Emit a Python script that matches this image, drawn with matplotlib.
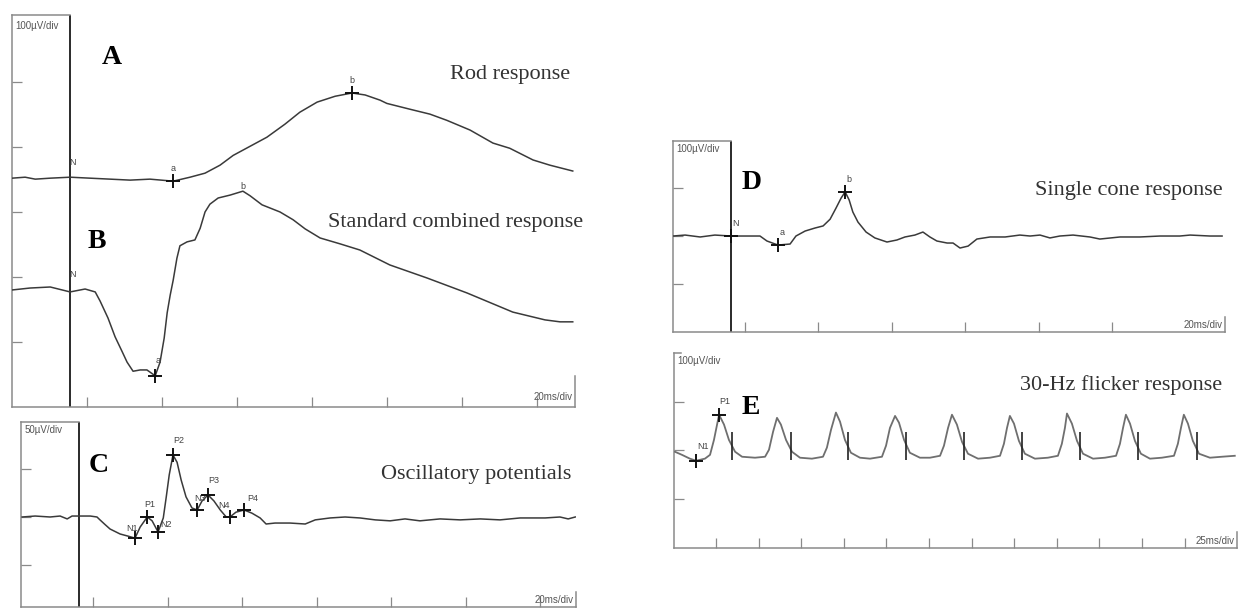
import matplotlib
matplotlib.use('Agg')
import matplotlib.pyplot as plt

W, H = 1241, 610

# ---------------- data (time in ms, amplitude in microvolts) ----------------
# A: rod response
rod_t = [-15.5, -12.0, -9.3, -5.3, 0, 5.3, 10.7, 16, 21.3, 27.5, 32, 36, 40, 43.5, 48, 52.5,
         57.3, 61.3, 65.9, 70.7, 75.2, 78.7, 82.7, 84.5, 90.7, 96, 100.5, 106.7, 112.8, 117.3,
         123.5, 128, 134.1]
rod_v = [0, 1.5, -1.5, 0, 1.5, 0, -1.5, -3, -1.5, -4.6, 1.5, 7.7, 20, 35, 49, 63,
         83, 101.5, 117, 126, 131, 128, 120, 115, 106, 98.5, 89, 74, 54, 46,
         28, 20, 11]
rod_marks_t = [27.5, 75.2]
rod_marks_v = [-4.6, 131]
rod_marks_lbl = ['a', 'b']

# B: standard combined response
comb_t = [-15.5, -10.7, -5.3, 0, 4, 6.7, 8, 10.1, 12, 13.9, 15.2, 16.8, 18.7, 20.5, 22.7, 24,
          25.1, 25.9, 26.7, 27.5, 28.5, 29.3, 31.2, 33.3, 34.7, 36, 37.3, 39.5, 42.7, 46.1, 48,
          51.2, 56, 59.5, 62.7, 66.7, 72, 77.3, 85.3, 95.2, 105.9, 118.1, 126.7, 130.7, 134.1]
comb_v = [0, 3, 4.6, -3, 1.5, -3, -17, -43, -72, -95, -111, -125, -123, -123, -132, -111,
          -74, -35, -8, 15, 49, 68, 74, 77, 95, 120, 132, 141.5, 146, 152, 145,
          131, 120, 108, 94, 80, 71, 61.5, 38.5, 18.5, -4.6, -34, -46, -49, -49]
comb_marks_t = [22.7]
comb_marks_v = [-132]

# C: oscillatory potentials
op_t = [-15.3, -11.8, -7.8, -5.1, -3.2, -1.9, 0, 3, 4.8, 5.6, 7, 8.3, 11, 13.2, 15, 16.4,
        18.3, 19.6, 21.2, 22.6, 23.4, 24.2, 25.2, 26.3, 27.4, 28.7, 30.3, 31.7, 33, 34.6,
        36.2, 37.9, 39.5, 40.5, 42.1, 44.3, 46.4, 48.6, 50.2, 52.6, 56.6, 60.7, 63.4, 67.4,
        71.4, 75.4, 79.5, 83.5, 87.5, 91.5, 96.9, 102.3, 107.7, 113, 118.4, 125.1, 129.1,
        131.3, 133.2]
op_v = [0, 1, 0, 1, -2, 1, 1, 1, 0, -3, -8, -12.5, -17.7, -20, -22, -10.4,
        0, -4, -15.6, -1, 21, 44, 64.6, 57, 38.5, 21, 9.4, 7.3, 16.7, 23,
        16.7, 7.3, 0, 0, 5, 7.3, 4, -1, -7.3, -6.3, -6.3, -7.3, -3, -1,
        0, -1, -3, -4, -2, -4, -2, -3, -2, -3, -1, -1, 0,
        -2, 0]
op_marks_lbl = ['N1', 'P1', 'N2', 'P2', 'N3', 'P3', 'N4', 'P4']
op_marks_t = [15, 18.3, 21.2, 25.2, 31.7, 34.6, 40.5, 44.3]
op_marks_v = [-22, 0, -15.6, 64.6, 7.3, 23, 0, 7.3]

# D: single cone response
cone_t = [-15.8, -12.5, -8.4, -4.4, 0, 5.2, 7.9, 9.8, 12.8, 16.1, 17.7, 20.2, 22.9, 25.1, 27,
          28.6, 30, 31.1, 32.2, 33.2, 34.6, 36.8, 39.2, 42.5, 45.2, 47.4, 50.1, 52.3, 54.2,
          56.1, 58.9, 60.5, 62.4, 64.6, 67, 70.6, 74.7, 78.7, 81.5, 84.2, 86.9, 89.6, 93.2,
          97.8, 100.5, 106, 111.4, 116.9, 122.3, 125.1, 130.5, 133.8]
cone_v = [0, 2, -2, 2, 0, 0, 0, -10.4, -18.8, -16.7, 0, 10.4, 16.7, 21, 35,
          58, 79, 92, 75, 50, 29, 8.3, -4, -12.5, -8.3, -2, 2, 8.3, -2,
          -10.4, -14.6, -14.6, -25, -21, -6.3, -2, -2, 2, 0, 2, -4, 0, 2,
          -2, -6.3, -2, -2, 0, 0, 2, 0, 0]
cone_marks_t = [0, 12.8, 31.1]
cone_marks_v = [0, -18.8, 92]
cone_marks_lbl = ['N', 'a', 'b']

# E: 30-Hz flicker response
flk_t = [0.9, 5, 9.7, 13.3, 18.5, 21.5, 23.8, 26.8, 29.7, 32.6, 36.2, 40.3, 47.9, 53.8,
         56.1, 58.5, 60.8, 63.1, 66.1, 69.6, 74.3, 81.3, 87.8, 90.1, 92.5, 95.4, 97.8,
         100.7, 104.2, 109.5, 115.4, 122.4, 124.8, 127.1, 130.1, 132.4, 135.4, 138.8,
         144.7, 150.6, 156.5, 158.8, 161.2, 163.5, 166.4, 169.4, 172.9, 178.8, 185.8,
         191.7, 194, 195.8, 197.5, 199.9, 202.8, 206.3, 212.2, 219.8, 225.7, 228, 229.8,
         231, 233.9, 236.9, 240.4, 246.3, 253.3, 259.8, 262.1, 263.9, 265.6, 268, 270.9,
         274.4, 279.7, 286.7, 293.8, 296.1, 297.9, 299.6, 302, 304.9, 308.5, 314.9, 321.9,
         329.5]
flk_v = [10.4, 4, -4, -8.3, -4, 4, 35, 87.5, 67, 35, 10.4, 0, -2, 0,
         14.6, 52, 81, 67, 35, 10.4, -2, -4, 0, 19, 56, 92, 73,
         35, 8.3, -2, -4, 0, 23, 60, 85, 71, 35, 8.3,
         -2, -2, 2, 23, 60, 87.5, 67, 31, 6.3, -4, -2,
         2, 27, 60, 85, 69, 33, 6.3, -4, -2, 2, 27, 60,
         90, 69, 33, 6.3, -4, -2, 2, 27, 60, 87.5, 69, 33,
         6.3, -4, -2, 2, 27, 60, 87.5, 69, 33, 6.3, -2, 0,
         2]
flk_marks_t = [13.3, 26.8]
flk_marks_v = [-8.3, 87.5]
flk_marks_lbl = ['N1', 'P1']
flk_stim_t = [34.4, 69, 102.5, 136.5, 170.5, 204.5, 238.6, 272.6, 307.2]

# ---------------- styling ----------------
TRACE = '#3a3a3a'
AXC = '#8a8a8a'
SERIF = ['Liberation Serif', 'DejaVu Serif']
SANS = ['Liberation Sans', 'DejaVu Sans']

fig = plt.figure(figsize=(W / 100, H / 100), dpi=100)
fig.patch.set_facecolor('white')


def box(x0, y0, x1, y1):
    return fig.add_axes([x0 / W, 1 - y1 / H, (x1 - x0) / W, (y1 - y0) / H])


def style(ax, xlim, ylim, xticks, yticks, zero_line=True, scale_lbl='100\u00b5V/div',
          time_lbl='20ms/div'):
    ax.set_xlim(*xlim)
    ax.set_ylim(*ylim)
    ax.patch.set_alpha(0)
    for s in ['top', 'right']:
        ax.spines[s].set_visible(False)
    for s in ['left', 'bottom']:
        ax.spines[s].set_color(AXC)
        ax.spines[s].set_linewidth(1.1)
    ax.set_xticks(xticks)
    ax.set_yticks(yticks)
    ax.tick_params(direction='in', length=7, width=0.9, color=AXC,
                   labelbottom=False, labelleft=False)
    if zero_line:
        ax.axvline(0, color='#2a2a2a', lw=1.4, zorder=1)
        frac = (0 - xlim[0]) / (xlim[1] - xlim[0])
        ax.axhline(ylim[1], xmin=0, xmax=frac, color=AXC, lw=1.1, clip_on=False)
    else:
        ax.plot([0, 0.012], [1, 1], transform=ax.transAxes, color=AXC, lw=1.1, clip_on=False)
    ax.axvline(xlim[1], ymin=0, ymax=0.08, color=AXC, lw=1.1, clip_on=False)
    ax.text(0.006, 0.985, scale_lbl, transform=ax.transAxes, ha='left', va='top',
            fontsize=7, color='#555', family=SANS)
    ax.text(0.995, 0.012, time_lbl, transform=ax.transAxes, ha='right', va='bottom',
            fontsize=7, color='#555', family=SANS)


def marks(ax, t, v, off):
    ax.plot(t, [x + off for x in v], ls='none', marker='+', ms=10, mew=1.4, color='#111', zorder=4)


def small(ax, x, y, s, dx=0, dy=6):
    ax.annotate(s, (x, y), xytext=(dx, dy), textcoords='offset points', fontsize=6.5,
                color='#444', ha='center', va='bottom', family=SANS)


# ---- Panel A / B ----
A_OFF, B_OFF = 352, 180
axAB = box(12, 15, 575, 407)
style(axAB, (-15.5, 134.7), (0, 603), [4.5 + 20 * k for k in range(7)],
      [100, 200, 300, 400, 500])
axAB.plot(rod_t, [v + A_OFF for v in rod_v], color=TRACE, lw=1.1, zorder=3)
axAB.plot(comb_t, [v + B_OFF for v in comb_v], color=TRACE, lw=1.1, zorder=3)
marks(axAB, rod_marks_t, rod_marks_v, A_OFF)
marks(axAB, comb_marks_t, comb_marks_v, B_OFF)
for t, v, s in zip(rod_marks_t, rod_marks_v, rod_marks_lbl):
    small(axAB, t, v + A_OFF, s, dy=6)
small(axAB, 0, A_OFF, 'N', dx=2, dy=8)
small(axAB, 0, B_OFF, 'N', dx=2, dy=8)
small(axAB, 46.1, 152 + B_OFF, 'b', dx=0, dy=0)
small(axAB, 22.7, -132 + B_OFF, 'a', dx=2, dy=8)
fig.text(112 / W, 1 - 58 / H, 'A', fontsize=20, fontweight='bold', family=SERIF,
         ha='center', va='center')
fig.text(97 / W, 1 - 241 / H, 'B', fontsize=20, fontweight='bold', family=SERIF,
         ha='center', va='center')
fig.text(510 / W, 1 - 75 / H, 'Rod response', fontsize=16, family=SERIF, color='#333',
         ha='center', va='center')
fig.text(456 / W, 1 - 222 / H, 'Standard combined response', fontsize=16, family=SERIF,
         color='#333', ha='center', va='center')

# ---- Panel C ----
C_OFF = 93.75
axC = box(21, 422, 576, 607)
style(axC, (-15.6, 133.4), (0, 192.7), [3.8 + 20 * k for k in range(7)],
      [C_OFF - 50, C_OFF, C_OFF + 50], scale_lbl='50\u00b5V/div')
axC.plot(op_t, [v + C_OFF for v in op_v], color=TRACE, lw=1.1, zorder=3)
marks(axC, op_marks_t, op_marks_v, C_OFF)
lbl_off = {'N1': (-2, 4), 'P1': (2, 6), 'N2': (6, 2), 'P2': (4, 7), 'N3': (2, 5),
           'P3': (4, 7), 'N4': (-4, 5), 'P4': (6, 5)}
for t, v, s in zip(op_marks_t, op_marks_v, op_marks_lbl):
    dx, dy = lbl_off[s]
    small(axC, t, v + C_OFF, s, dx=dx, dy=dy)
fig.text(99 / W, 1 - 465 / H, 'C', fontsize=20, fontweight='bold', family=SERIF,
         ha='center', va='center')
fig.text(476 / W, 1 - 475 / H, 'Oscillatory potentials', fontsize=16, family=SERIF,
         color='#333', ha='center', va='center')

# ---- Panel D ----
D_OFF = 200
axD = box(673, 141, 1225, 332)
style(axD, (-15.8, 134.6), (0, 398), [3.8 + 20 * k for k in range(6)], [100, 200, 300])
axD.plot(cone_t, [v + D_OFF for v in cone_v], color=TRACE, lw=1.1, zorder=3)
marks(axD, cone_marks_t, cone_marks_v, D_OFF)
for t, v, s in zip(cone_marks_t, cone_marks_v, cone_marks_lbl):
    small(axD, t, v + D_OFF, s, dx=3, dy=6)
fig.text(752 / W, 1 - 182 / H, 'D', fontsize=20, fontweight='bold', family=SERIF,
         ha='center', va='center')
fig.text(1129 / W, 1 - 190 / H, 'Single cone response', fontsize=16, family=SERIF,
         color='#333', ha='center', va='center')

# ---- Panel E ----
E_OFF = 190
axE = box(674, 353, 1237, 548)
style(axE, (0.35, 330.8), (0, 406), [25 * k for k in range(1, 13)], [102, 204, 304],
      zero_line=False, time_lbl='25ms/div')
axE.plot(flk_t, [v + E_OFF for v in flk_v], color='#6f6f6f', lw=1.3, zorder=3)
axE.vlines(flk_stim_t, E_OFF - 6, E_OFF + 52, color='#222', lw=1.2, zorder=4)
marks(axE, flk_marks_t, flk_marks_v, E_OFF)
small(axE, 13.3, -8.3 + E_OFF, 'N1', dx=5, dy=7)
small(axE, 26.8, 87.5 + E_OFF, 'P1', dx=4, dy=6)
fig.text(751 / W, 1 - 407 / H, 'E', fontsize=20, fontweight='bold', family=SERIF,
         ha='center', va='center')
fig.text(1121 / W, 1 - 385 / H, '30-Hz flicker response', fontsize=16, family=SERIF,
         color='#333', ha='center', va='center')

fig.savefig('out.png', dpi=100, facecolor='white')
